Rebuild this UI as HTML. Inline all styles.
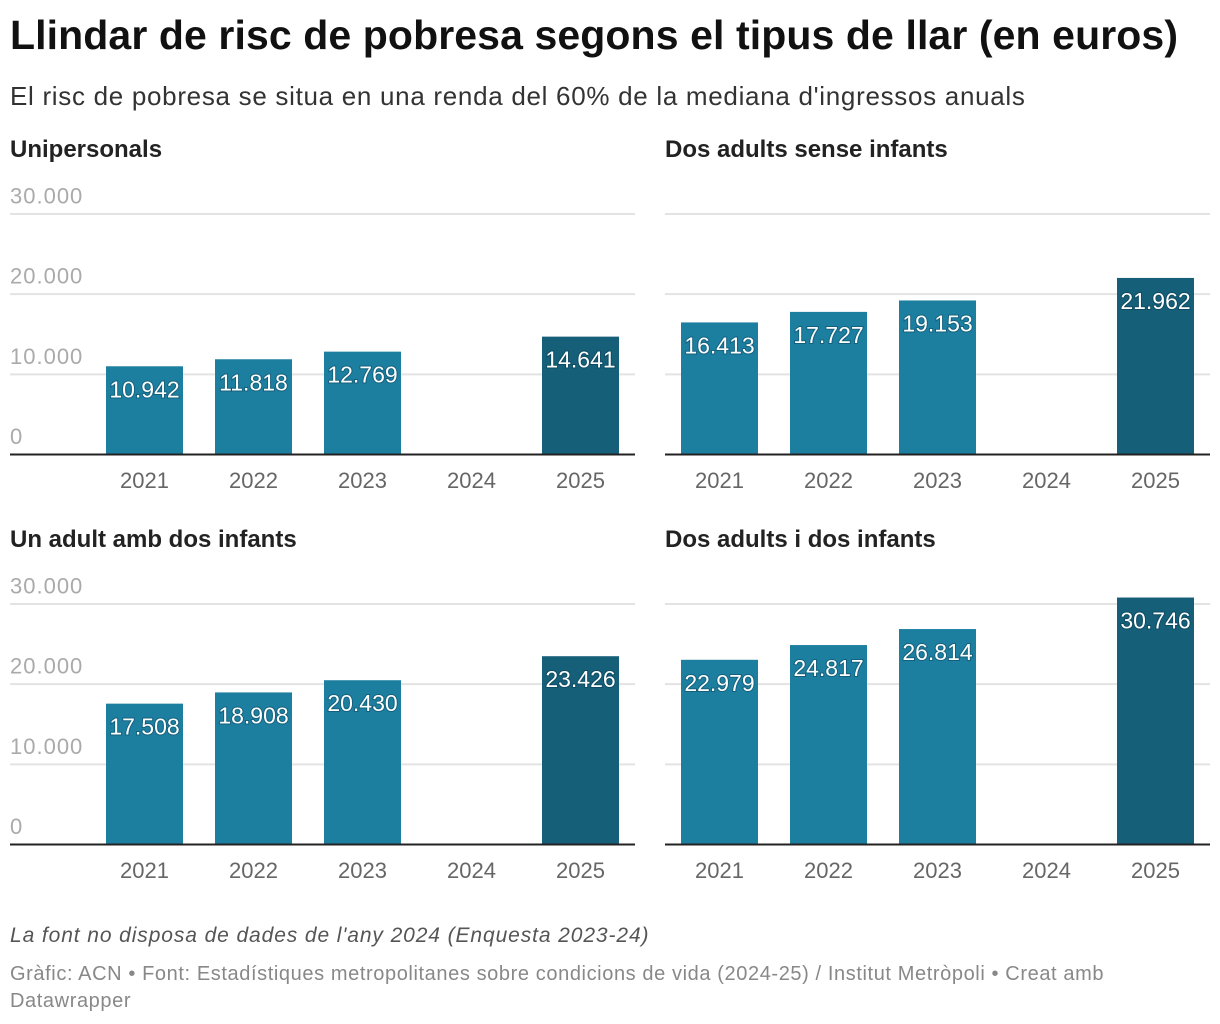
<!DOCTYPE html>
<html><head><meta charset="utf-8">
<style>
body{margin:0;background:#fff;font-family:"Liberation Sans",Roboto,sans-serif;width:1220px;height:1024px;overflow:hidden;position:relative}
.t{position:absolute;left:10px;white-space:nowrap}
</style></head><body>
<div class="t" style="top:12px;font-size:41px;font-weight:bold;color:#111;letter-spacing:0.1px">Llindar de risc de pobresa segons el tipus de llar (en euros)</div>
<div class="t" style="top:81px;font-size:26px;color:#333;letter-spacing:0.7px">El risc de pobresa se situa en una renda del 60% de la mediana d'ingressos anuals</div>
<svg id="chart" width="1220" height="900" style="position:absolute;left:0;top:0"></svg>
<div class="t" style="top:924px;font-size:21px;font-style:italic;color:#555;letter-spacing:0.9px">La font no disposa de dades de l'any 2024 (Enquesta 2023-24)</div>
<div class="t" style="top:961px;font-size:20px;color:#888;line-height:27px;white-space:normal;width:1150px;letter-spacing:0.6px">Gràfic: ACN • Font: Estadístiques metropolitanes sobre condicions de vida (2024-25) / Institut Metròpoli • Creat amb Datawrapper</div>
<script>
const categories=["2021","2022","2023","2024","2025"];
const panelTitles=["Unipersonals","Dos adults sense infants","Un adult amb dos infants","Dos adults i dos infants"];
const valsUnipersonals=[10942,11818,12769,null,14641];
const valsDosAdults=[16413,17727,19153,null,21962];
const valsUnAdultDos=[17508,18908,20430,null,23426];
const valsDosAdultsDos=[22979,24817,26814,null,30746];
const yTicks=[0,10000,20000,30000];
const yTickLabels=["0","10.000","20.000","30.000"];
const series=[valsUnipersonals,valsDosAdults,valsUnAdultDos,valsDosAdultsDos];
const NS="http://www.w3.org/2000/svg";
const svg=document.getElementById("chart");
function mk(tag,attrs,parent){const e=document.createElementNS(NS,tag);for(const k in attrs)e.setAttribute(k,attrs[k]);(parent||svg).appendChild(e);return e;}
function fmt(v){return v.toString().replace(/\B(?=(\d{3})+(?!\d))/g,".");}
const panels=[{x0:10,x1:635,base:454,first:144.5,title:149},{x0:665,x1:1210,base:454,first:719.5,title:149},{x0:10,x1:635,base:844,first:144.5,title:539},{x0:665,x1:1210,base:844,first:719.5,title:539}];
panels.forEach((p,i)=>{
  const g=mk("g",{});
  
  
  const yS=v=>p.base-v*240.5/30000;
  const xS=j=>p.first+j*109;
  const tt=mk("text",{x:p.x0,y:p.title+8,"font-size":24,"font-weight":"bold",fill:"#222"},g);
  tt.textContent=panelTitles[i];
  
  
  yTicks.forEach((t,k)=>{
    if(t>0){const l=mk("line",{x1:p.x0,x2:p.x1,y1:yS(t)+0.5,y2:yS(t)+0.5,stroke:"#e3e3e3","stroke-width":2},g);
      
      }
    if(i%2===0){const tl=mk("text",{x:10,y:yS(t)-10,"font-size":22,fill:"#aaa","letter-spacing":"1px"},g);tl.textContent=yTickLabels[k];
      
      }
  });
  series[i].forEach((v,j)=>{
    const cx=xS(j);
    const yl=mk("text",{x:cx,y:p.base+34,"font-size":22,fill:"#666","text-anchor":"middle"},g);
    yl.textContent=categories[j];
    
    
    if(v==null)return;
    const r=mk("rect",{x:cx-38.5,y:yS(v),width:77,height:p.base-yS(v),fill:j===4?"#155f78":"#1d7fa0"},g);
    
    
    const vl=mk("text",{x:cx,y:yS(v)+31,"font-size":23,fill:"#fff","text-anchor":"middle",style:"paint-order:stroke;stroke:rgba(0,40,60,0.35);stroke-width:2px"},g);
    vl.textContent=fmt(v);
    
    
  });
  const ax=mk("line",{x1:p.x0,x2:p.x1,y1:p.base+0.5,y2:p.base+0.5,stroke:"#222","stroke-width":2},g);
  
  
});
</script>
</body></html>
